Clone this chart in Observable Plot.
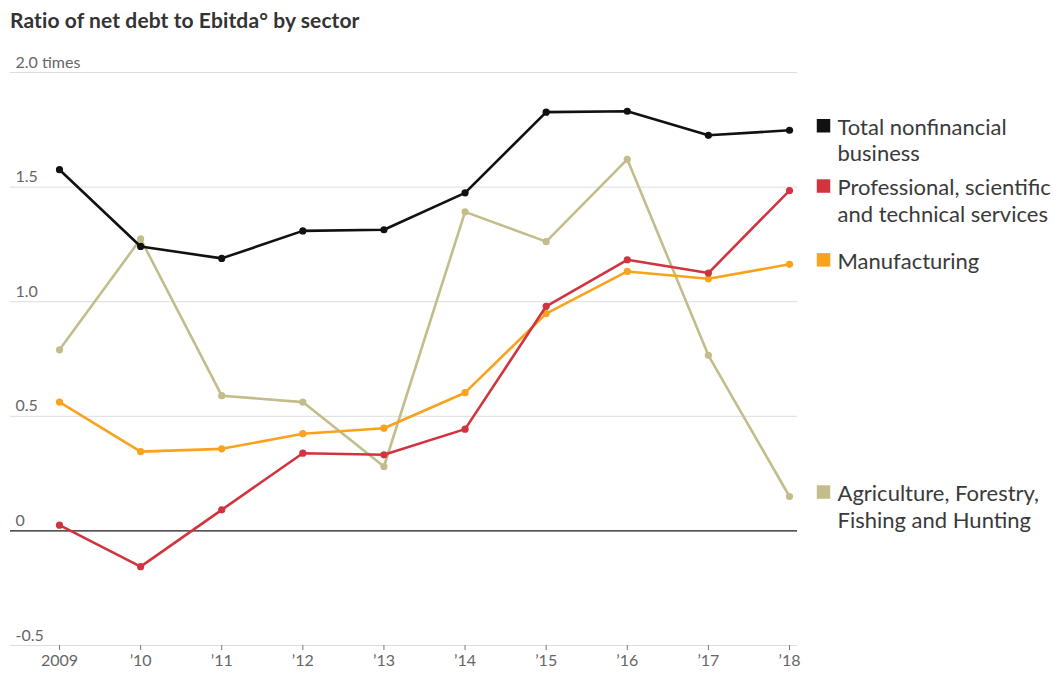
<!DOCTYPE html>
<html>
<head>
<meta charset="utf-8">
<script src="https://cdn.jsdelivr.net/npm/d3@7"></script>
<script src="https://cdn.jsdelivr.net/npm/@observablehq/plot@0.6"></script>
<style>
  body { margin: 0; background: #fff; }
  #title { font: bold 21px Lato, sans-serif; color: #333; padding: 8px 0 0 10px; height: 32px; box-sizing: content-box; line-height: 24px; letter-spacing: 0.1px; }
  #chart svg { display: block; }
</style>
</head>
<body>
<div id="title">Ratio of net debt to Ebitda° by sector</div>
<div id="chart"></div>
<script>
const years = [2009, 2010, 2011, 2012, 2013, 2014, 2015, 2016, 2017, 2018];
const total = [1.576, 1.241, 1.189, 1.309, 1.314, 1.475, 1.827, 1.831, 1.726, 1.748];
const professional = [0.025, -0.156, 0.092, 0.339, 0.332, 0.444, 0.980, 1.183, 1.125, 1.485];
const manufacturing = [0.562, 0.346, 0.358, 0.424, 0.448, 0.603, 0.948, 1.132, 1.100, 1.163];
const agriculture = [0.790, 1.274, 0.590, 0.562, 0.281, 1.392, 1.262, 1.621, 0.766, 0.150];

const seriesLabels = [
  "Agriculture, Forestry,\nFishing and Hunting",
  "Manufacturing",
  "Professional, scientific\nand technical services",
  "Total nonfinancial\nbusiness"
];
const seriesValues = [agriculture, manufacturing, professional, total];
const seriesColors = ["#c3bd8b", "#f9a21c", "#d1343f", "#111111"];

const yTicks = [-0.5, 0, 0.5, 1.0, 1.5, 2.0];
const yTickLabels = ["-0.5", "0", "0.5", "1.0", "1.5", "2.0 times"];
const xTickLabels = ["2009", "\u201910", "\u201911", "\u201912", "\u201913", "\u201914", "\u201915", "\u201916", "\u201917", "\u201918"];

const marks = [
  Plot.gridY(yTicks, {stroke: "#dddddd", strokeOpacity: 1, strokeWidth: 1}),
  Plot.ruleY([0], {stroke: "#222", strokeWidth: 1.2}),
  Plot.axisX({
    ticks: years,
    tickFormat: (d) => xTickLabels[years.indexOf(d)],
    tickSize: 5,
    tickPadding: 4,
    stroke: "#777",
    fill: "#666",
    fontSize: 16,
    label: null
  }),
  Plot.axisY({ticks: [], label: null}),
  Plot.text(yTicks, {
    y: d => d,
    text: (d, i) => yTickLabels[i],
    frameAnchor: "left",
    textAnchor: "start",
    lineAnchor: "bottom",
    dx: 5,
    dy: -5,
    fontSize: 16,
    fill: "#666"
  })
];

seriesValues.forEach((vals, s) => {
  const rows = years.map((y, i) => ({year: y, value: vals[i]}));
  marks.push(Plot.line(rows, {x: "year", y: "value", stroke: seriesColors[s], strokeWidth: 2.6}));
  marks.push(Plot.dot(rows, {x: "year", y: "value", fill: seriesColors[s], r: 3.6}));
  const last = [rows[rows.length - 1]];
  marks.push(Plot.dot(last, {x: "year", y: "value", symbol: "square", r: 7.6, fill: seriesColors[s], dx: 34, dy: -4.5}));
  marks.push(Plot.text(last, {
    x: "year", y: "value", text: () => seriesLabels[s],
    textAnchor: "start", lineAnchor: "top", lineHeight: 1.2,
    dx: 48, dy: -14, fontSize: 22, fill: "#3a3a3a"
  }));
});

const chart = Plot.plot({
  width: 1057,
  height: 633,
  marginLeft: 10,
  marginRight: 260,
  marginTop: 32,
  marginBottom: 28,
  style: {fontFamily: "Lato, sans-serif", background: "#fff", overflow: "visible"},
  x: {type: "linear", domain: [2009, 2018], range: [59, 789]},
  y: {domain: [-0.5, 2.0]},
  marks
});
document.getElementById("chart").appendChild(chart);
</script>
</body>
</html>
